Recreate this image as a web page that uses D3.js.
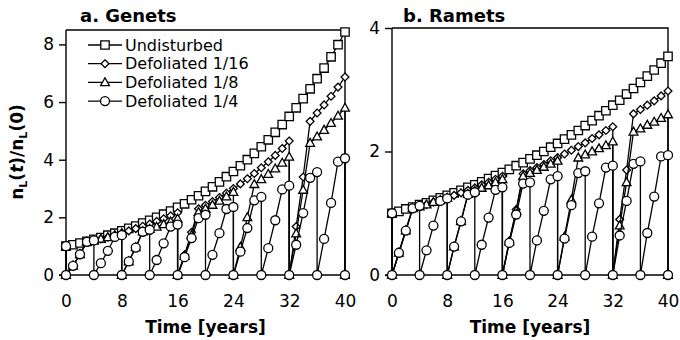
<!DOCTYPE html>
<html><head><meta charset="utf-8">
<script src="https://cdn.jsdelivr.net/npm/d3@7"></script>
<style>body{margin:0;background:#fff}svg{display:block}text{font-family:"DejaVu Sans",sans-serif;fill:#000}</style>
</head><body><svg id="c" width="680" height="340"></svg>
<script>
const years = [0,1,2,3,4,5,6,7,8,9,10,11,12,13,14,15,16,17,18,19,20,21,22,23,24,25,26,27,28,29,30,31,32,33,34,35,36,37,38,39,40];
const xTicks = [0,8,16,24,32,40];
const genetsYTicks = [0,2,4,6,8];
const rametsYTicks = [0,2,4];
const seriesNames = ["Undisturbed","Defoliated 1/16","Defoliated 1/8","Defoliated 1/4"];

const genetsUndisturbed = [1.00,1.05,1.11,1.17,1.24,1.30,1.38,1.45,1.53,1.62,1.70,1.80,1.90,2.00,2.11,2.22,2.35,2.47,2.61,2.75,2.90,3.06,3.23,3.41,3.59,3.79,4.00,4.22,4.45,4.69,4.95,5.22,5.50,5.80,6.12,6.46,6.81,7.18,7.57,7.99,8.43];
const genets16 = [1.00,0.32,0.72,1.15,1.19,1.25,1.31,1.38,1.45,1.53,1.61,1.69,1.77,1.86,1.95,2.05,2.16,0.70,1.48,2.30,2.42,2.55,2.69,2.84,3.00,3.16,3.34,3.52,3.72,3.93,4.15,4.39,4.65,1.68,3.40,5.33,5.62,5.90,6.20,6.52,6.87];
const genets8 = [1.00,0.32,0.72,1.15,1.19,1.25,1.31,1.38,1.45,0.47,0.96,1.51,1.59,1.67,1.76,1.85,1.95,0.66,1.38,2.18,2.30,2.43,2.57,2.72,2.88,0.97,2.00,3.15,3.32,3.50,3.69,3.89,4.10,1.44,2.95,4.58,4.80,5.03,5.27,5.52,5.80];
const genets4 = [1.00,0.32,0.72,1.15,1.20,0.41,0.84,1.32,1.38,0.47,0.95,1.50,1.57,0.52,1.10,1.68,1.75,0.62,1.28,1.97,2.09,0.70,1.45,2.29,2.36,0.81,1.63,2.59,2.71,0.93,1.90,2.97,3.10,1.05,2.15,3.37,3.57,1.25,2.50,3.93,4.05];

const rametsUndisturbed = [1.00,1.03,1.07,1.10,1.14,1.17,1.21,1.25,1.29,1.33,1.37,1.42,1.46,1.51,1.56,1.61,1.66,1.71,1.77,1.82,1.88,1.94,2.00,2.07,2.13,2.20,2.27,2.34,2.42,2.50,2.58,2.66,2.75,2.83,2.93,3.02,3.12,3.22,3.32,3.43,3.54];
const ramets16 = [1.00,0.36,0.72,1.08,1.11,1.14,1.18,1.21,1.25,1.29,1.33,1.37,1.41,1.46,1.50,1.55,1.60,0.55,1.06,1.64,1.69,1.74,1.79,1.85,1.90,1.96,2.02,2.08,2.14,2.21,2.27,2.34,2.40,0.90,1.70,2.61,2.68,2.75,2.82,2.90,2.98];
const ramets8 = [1.00,0.36,0.72,1.08,1.11,1.14,1.18,1.21,1.25,0.46,0.87,1.31,1.36,1.41,1.45,1.50,1.55,0.54,1.04,1.60,1.65,1.70,1.75,1.80,1.85,0.62,1.22,1.90,1.95,2.00,2.05,2.10,2.16,0.80,1.50,2.32,2.37,2.43,2.48,2.54,2.60];
const ramets4 = [1.00,0.36,0.72,1.08,1.12,0.40,0.80,1.20,1.24,0.46,0.87,1.30,1.34,0.49,0.93,1.38,1.42,0.52,0.98,1.48,1.50,0.56,1.04,1.55,1.60,0.59,1.13,1.65,1.68,0.62,1.16,1.74,1.77,0.64,1.20,1.80,1.84,0.68,1.27,1.92,1.94];

const dropsNone = [];
const drops16 = [0,16,32];
const drops8 = [0,8,16,24,32,40];
const drops4 = [0,4,8,12,16,20,24,28,32,36,40];

const svg = d3.select("#c");

function markerPath(kind){
  if(kind==="square") return "M-4.2,-4.2H4.2V4.2H-4.2Z";
  if(kind==="diamond") return "M0,-3.9L3.9,0L0,3.9L-3.9,0Z";
  if(kind==="triangle") return "M0,-4.6L4.4,3.3L-4.4,3.3Z";
  return d3.arc()({innerRadius:0,outerRadius:4.5,startAngle:0,endAngle:2*Math.PI});
}

function buildPoints(vals, drops){
  const pts = [];
  years.forEach((t,i)=>{
    pts.push([t, vals[i]]);
    if(drops.includes(t)) pts.push([t, 0]);
  });
  return pts;
}

function panel(cfg){
  const x = d3.scaleLinear().domain([0,40]).range([cfg.x0, cfg.x1]);
  const y = d3.scaleLinear().domain([0,cfg.ymax]).range([275, cfg.ytop]);
  const g = svg.append("g");
  g.append("path").attr("d",`M${x(0)},${y(cfg.ymax)}H${x(40)}V${y(0)}`).attr("fill","none").attr("stroke","#000").attr("stroke-width",1.4);
  const ya = g.append("g").attr("transform",`translate(${x(0)},0)`)
    .call(d3.axisLeft(y).tickValues(cfg.yticks).tickFormat(d3.format("d")).tickSize(7).tickPadding(5));
  const xa = g.append("g").attr("transform",`translate(0,${y(0)})`)
    .call(d3.axisBottom(x).tickValues(xTicks).tickFormat(d3.format("d")).tickSize(5).tickPadding(15));
  [ya,xa].forEach(a=>{
    a.select(".domain").attr("stroke","#000").attr("stroke-width",1.4);
    a.selectAll(".tick line").attr("stroke","#000").attr("stroke-width",1.4);
    a.selectAll("text").attr("font-size",17).attr("font-family","DejaVu Sans").attr("fill","#000");
  });
  ya.select(".domain").attr("d",`M0,${y(cfg.ymax)}V${y(0)}`);
  xa.select(".domain").attr("d",`M${x(0)-7},0H${x(40)}`);

  const line = d3.line().x(d=>x(d[0])).y(d=>y(d[1]));
  cfg.series.forEach(s=>{
    const pts = buildPoints(s.vals, s.drops);
    g.append("path").attr("d",line(pts)).attr("fill","none").attr("stroke","#000").attr("stroke-width",1.3);
    g.selectAll(null).data(pts).enter().append("path")
      .attr("d",markerPath(s.marker))
      .attr("transform",d=>`translate(${x(d[0])},${y(d[1])})`)
      .attr("fill","#fff").attr("stroke","#000").attr("stroke-width",1.3);
  });
  g.append("text").attr("x",cfg.titleX).attr("y",22).attr("font-size",18).attr("font-weight","bold").text(cfg.title);
  g.append("text").attr("x",(x(0)+x(40))/2).attr("y",333).attr("text-anchor","middle").attr("font-size",17).attr("font-weight","bold").text("Time [years]");
  return {x,y};
}

const markers = ["square","diamond","triangle","circle"];

panel({x0:66,x1:345,ymax:8.5,ytop:30,yticks:genetsYTicks,title:"a. Genets",titleX:80,
  series:[
    {vals:genetsUndisturbed,drops:dropsNone,marker:"square"},
    {vals:genets16,drops:drops16,marker:"diamond"},
    {vals:genets8,drops:drops8,marker:"triangle"},
    {vals:genets4,drops:drops4,marker:"circle"}]});
panel({x0:392,x1:668,ymax:4,ytop:28,yticks:rametsYTicks,title:"b. Ramets",titleX:403,
  series:[
    {vals:rametsUndisturbed,drops:dropsNone,marker:"square"},
    {vals:ramets16,drops:drops16,marker:"diamond"},
    {vals:ramets8,drops:drops8,marker:"triangle"},
    {vals:ramets4,drops:drops4,marker:"circle"}]});

const leg = svg.append("g");
seriesNames.forEach((name,i)=>{
  const yy = 45 + i*18.7;
  leg.append("line").attr("x1",88).attr("x2",122).attr("y1",yy).attr("y2",yy).attr("stroke","#000").attr("stroke-width",1.3);
  leg.append("path").attr("d",markerPath(markers[i])).attr("transform",`translate(105,${yy})`).attr("fill","#fff").attr("stroke","#000").attr("stroke-width",1.3);
  leg.append("text").attr("x",125).attr("y",yy).attr("dy","0.36em").attr("font-size",16).text(name);
});

const yt = svg.append("text").attr("transform","translate(23,152) rotate(-90)").attr("text-anchor","middle").attr("font-size",17).attr("font-weight","bold");
yt.append("tspan").text("n");
yt.append("tspan").attr("font-size",11).attr("dy",4).text("L");
yt.append("tspan").attr("dy",-4).text("(");
yt.append("tspan").attr("font-style","italic").text("t");
yt.append("tspan").text(")/n");
yt.append("tspan").attr("font-size",11).attr("dy",4).text("L");
yt.append("tspan").attr("dy",-4).text("(0)");
</script></body></html>
